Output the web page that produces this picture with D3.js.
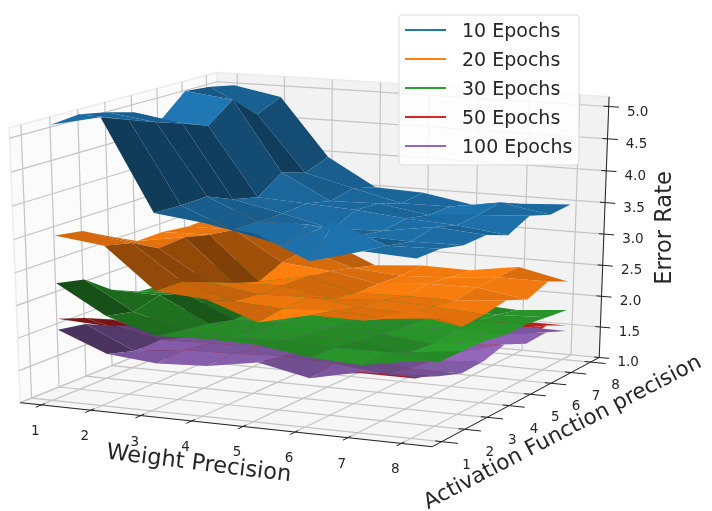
<!DOCTYPE html>
<html>
<head>
<meta charset="utf-8">
<script src="https://cdn.jsdelivr.net/npm/d3@7"></script>
<style>
  html, body { margin: 0; padding: 0; background: #fff; }
  svg { display: block; font-family: "DejaVu Sans", sans-serif; filter: blur(0.35px); }
</style>
</head>
<body>
<div id="chart"></div>
<script>
// rows are weight precision 1..8, columns activation precision 1..8
const epochs10 = [
    [5.18, 5.22, 5.14, 5.03, 4.79, 5.14, 5.10, 5.02],
    [5.34, 5.19, 5.04, 4.91, 4.76, 5.05, 4.71, 4.88],
    [4.00, 3.98, 3.98, 3.81, 3.71, 3.97, 3.84, 3.97],
    [3.91, 3.67, 3.66, 3.65, 3.67, 3.58, 3.65, 3.54],
    [3.81, 3.51, 3.68, 3.48, 3.63, 3.60, 3.47, 3.51],
    [3.48, 3.92, 3.57, 3.51, 3.56, 3.48, 3.48, 3.38],
    [3.69, 3.63, 3.55, 3.63, 3.52, 3.54, 3.60, 3.45],
    [3.65, 3.65, 3.56, 3.57, 3.43, 3.59, 3.47, 3.50]
];
const epochs20 = [
    [3.54, 3.47, 3.25, 3.04, 3.04, 2.99, 3.00, 3.00],
    [3.45, 3.35, 3.13, 3.16, 3.06, 3.00, 2.95, 2.95],
    [2.84, 2.83, 2.67, 2.51, 2.38, 2.54, 2.60, 2.60],
    [2.78, 2.60, 2.55, 2.54, 2.53, 2.47, 2.37, 2.27],
    [2.51, 2.56, 2.58, 2.40, 2.34, 2.33, 2.31, 2.33],
    [2.69, 2.60, 2.50, 2.45, 2.36, 2.40, 2.35, 2.32],
    [2.68, 2.55, 2.47, 2.42, 2.36, 2.41, 2.42, 2.44],
    [2.91, 2.63, 2.34, 2.37, 2.43, 2.29, 2.42, 2.27]
];
const epochs30 = [
    [2.82, 2.73, 2.42, 2.24, 2.19, 2.20, 2.20, 2.15],
    [2.39, 2.30, 2.40, 2.28, 2.20, 2.15, 2.10, 2.10],
    [2.16, 2.09, 2.03, 1.93, 1.95, 2.00, 2.00, 2.00],
    [2.19, 2.05, 2.00, 1.95, 1.95, 1.90, 1.90, 1.85],
    [2.17, 2.08, 2.00, 1.96, 1.92, 1.90, 1.85, 1.85],
    [2.06, 2.04, 1.98, 1.92, 1.88, 1.85, 1.85, 1.78],
    [2.02, 2.05, 1.88, 1.84, 1.90, 1.88, 1.82, 1.74],
    [2.16, 1.97, 1.97, 1.96, 1.89, 1.90, 1.85, 1.81]
];
const epochs50 = [
    [2.28, 2.13, 1.95, 1.80, 1.70, 1.65, 1.65, 1.62],
    [2.24, 1.95, 1.78, 1.68, 1.62, 1.58, 1.58, 1.55],
    [1.82, 1.83, 1.76, 1.68, 1.62, 1.58, 1.56, 1.54],
    [1.84, 1.85, 1.79, 1.72, 1.66, 1.58, 1.56, 1.54],
    [1.96, 1.89, 1.79, 1.72, 1.62, 1.56, 1.54, 1.54],
    [1.82, 1.86, 1.76, 1.70, 1.60, 1.56, 1.54, 1.52],
    [1.90, 1.76, 1.68, 1.62, 1.58, 1.56, 1.56, 1.56],
    [1.90, 1.80, 1.68, 1.70, 1.80, 1.66, 1.72, 1.56]
];
const epochs100 = [
    [2.11, 2.04, 1.85, 1.70, 1.62, 1.60, 1.60, 1.58],
    [1.81, 1.69, 1.70, 1.58, 1.55, 1.52, 1.50, 1.50],
    [1.74, 1.78, 1.72, 1.64, 1.58, 1.52, 1.50, 1.48],
    [1.78, 1.80, 1.74, 1.68, 1.62, 1.52, 1.50, 1.48],
    [1.91, 1.84, 1.74, 1.68, 1.58, 1.50, 1.48, 1.48],
    [1.75, 1.80, 1.70, 1.65, 1.55, 1.50, 1.48, 1.46],
    [1.92, 1.72, 1.63, 1.58, 1.53, 1.50, 1.50, 1.48],
    [1.92, 1.76, 1.63, 1.65, 1.75, 1.59, 1.61, 1.47]
];

const legendLabels = ['10 Epochs', '20 Epochs', '30 Epochs', '50 Epochs', '100 Epochs'];
const seriesColors = ['#1f77b4', '#ff7f0e', '#2ca02c', '#d62728', '#9467bd'];
const seriesValues = [epochs10, epochs20, epochs30, epochs50, epochs100];
const drawOrder = [3, 4, 2, 1, 0];
const gridTicks = [1, 2, 3, 4, 5, 6, 7, 8];
const zTicks = [1, 1.5, 2, 2.5, 3, 3.5, 4, 4.5, 5];
// the mesh sits a little off the x tick marks in the picture
const weightPositions = [1.16, 2.14, 3.13, 4.12, 5.10, 6.09, 7.07, 8.06];
const activationPositions = [1, 2, 3, 4, 5, 6, 7, 8];

const width = 712;
const height = 511;

// camera, same idea as mplot3d
const elev = 16.5 * Math.PI / 180;
const azim = -65 * Math.PI / 180;
const dist = 8;

const right = [-Math.sin(azim), Math.cos(azim), 0];
const toEye = [Math.cos(elev) * Math.cos(azim), Math.cos(elev) * Math.sin(azim), Math.sin(elev)];
const up = [-Math.sin(elev) * Math.cos(azim), -Math.sin(elev) * Math.sin(azim), Math.cos(elev)];
const dot = (a, b) => a[0] * b[0] + a[1] * b[1] + a[2] * b[2];

const xLim = [0.57, 8.57];
const yLim = [0.6, 8.45];
const zLim = [1, 5.15];

const xWorld = d3.scaleLinear().domain(xLim).range([-0.5, 0.5]);
const yWorld = d3.scaleLinear().domain(yLim).range([-0.5, 0.5]);
const zWorld = d3.scaleLinear().domain(zLim).range([-0.5, 0.5]);
const xScreen = d3.scaleLinear().domain([-1, 1]).range([318 - 443, 318 + 443]);
const yScreen = d3.scaleLinear().domain([-1, 1]).range([248 + 279, 248 - 279]);

function project(x, y, z) {
    const p = [xWorld(x), yWorld(y), zWorld(z)];
    const s = dist / (dist - dot(p, toEye));
    return [xScreen(dot(p, right) * s), yScreen(dot(p, up) * s)];
}

function depth(x, y, z) {
    return dot([xWorld(x), yWorld(y), zWorld(z)], toEye);
}

const svg = d3.select('#chart').append('svg')
    .attr('width', width)
    .attr('height', height);

const line3d = d3.line();

function drawPane(points, fill) {
    svg.append('path')
        .attr('d', line3d(points.map(d => project(...d))) + 'Z')
        .attr('fill', fill)
        .attr('stroke', '#ececec')
        .attr('stroke-width', 1.5);
}

const [x0, x1] = xLim;
const [y0, y1] = yLim;
const [z0, z1] = zLim;

drawPane([[x0, y0, z0], [x0, y1, z0], [x0, y1, z1], [x0, y0, z1]], '#fbfbfb');
drawPane([[x0, y1, z0], [x1, y1, z0], [x1, y1, z1], [x0, y1, z1]], '#f2f2f2');
drawPane([[x0, y0, z0], [x1, y0, z0], [x1, y1, z0], [x0, y1, z0]], '#f6f6f6');

function drawGrid(points) {
    svg.append('path')
        .attr('d', line3d(points.map(d => project(...d))))
        .attr('fill', 'none')
        .attr('stroke', '#c4c4c4')
        .attr('stroke-width', 1.2);
}

gridTicks.forEach(t => {
    drawGrid([[t, y0, z0], [t, y1, z0], [t, y1, z1]]);
    drawGrid([[x1, t, z0], [x0, t, z0], [x0, t, z1]]);
});
zTicks.forEach(t => {
    drawGrid([[x0, y0, t], [x0, y1, t], [x1, y1, t]]);
});

// axis lines on the front and right
function drawAxis(a, b) {
    svg.append('path')
        .attr('d', line3d([project(...a), project(...b)]))
        .attr('stroke', '#222')
        .attr('stroke-width', 1);
}
drawAxis([x0, y0, z0], [x1, y0, z0]);
drawAxis([x1, y0, z0], [x1, y1, z0]);
drawAxis([x1, y1, z0], [x1, y1, z1]);

function tickMark(a, b) {
    svg.append('path')
        .attr('d', line3d([project(...a), project(...b)]))
        .attr('stroke', '#222')
        .attr('stroke-width', 1);
}

function tickLabel(pos, dx, dy, text) {
    svg.append('text')
        .attr('x', pos[0] + dx)
        .attr('y', pos[1] + dy)
        .attr('text-anchor', 'middle')
        .attr('dominant-baseline', 'central')
        .attr('font-size', 13.5)
        .attr('fill', '#262626')
        .text(text);
}

gridTicks.forEach(t => {
    tickMark([t, y0 + 0.12, z0], [t, y0 - 0.2, z0]);
    tickLabel(project(t, y0, z0), -6, 25, t);
    tickMark([x1 - 0.12, t, z0], [x1 + 0.3, t, z0]);
    tickLabel(project(x1, t, z0), 25, 22, t);
});
zTicks.forEach(t => {
    tickMark([x1 - 0.1, y1, t], [x1 + 0.2, y1, t]);
    tickLabel(project(x1, y1, t), 29, 4, t.toFixed(1));
});

// shade is scaled per surface, darkest face gets half the base colour
function surfaceFaces(values, color) {
    const base = d3.rgb(color);
    const faces = [];
    for (let i = 0; i < 7; i++) {
        for (let j = 0; j < 7; j++) {
            const corners = [
                [weightPositions[i], activationPositions[j], values[i][j]],
                [weightPositions[i + 1], activationPositions[j], values[i + 1][j]],
                [weightPositions[i + 1], activationPositions[j + 1], values[i + 1][j + 1]],
                [weightPositions[i], activationPositions[j + 1], values[i][j + 1]]
            ];
            // normal from the two diagonals of the quad
            const u = corners[2].map((c, k) => c - corners[0][k]);
            const v = corners[3].map((c, k) => c - corners[1][k]);
            const n = [
                u[1] * v[2] - u[2] * v[1],
                u[2] * v[0] - u[0] * v[2],
                u[0] * v[1] - u[1] * v[0]
            ];
            const shade = dot(n, [-1, -1, 0.5]) / Math.sqrt(dot(n, n));
            faces.push({
                corners,
                shade,
                depth: d3.mean(corners, c => depth(...c))
            });
        }
    }
    const shadeScale = d3.scaleLinear()
        .domain(d3.extent(faces, d => d.shade))
        .range([0.5, 1]);
    faces.forEach(d => {
        const k = shadeScale(d.shade);
        d.fill = d3.rgb(base.r * k, base.g * k, base.b * k).formatHex();
    });
    return faces.sort((a, b) => a.depth - b.depth);
}

drawOrder.forEach(idx => {
    svg.append('g')
        .selectAll('path')
        .data(surfaceFaces(seriesValues[idx], seriesColors[idx]))
        .enter()
        .append('path')
        .attr('d', d => line3d(d.corners.map(c => project(...c))) + 'Z')
        .attr('fill', d => d.fill);
});

// axis titles
function axisTitle(x, y, angle, size, text) {
    svg.append('text')
        .attr('transform', `translate(${x},${y}) rotate(${angle})`)
        .attr('text-anchor', 'middle')
        .attr('dominant-baseline', 'central')
        .attr('font-size', size)
        .attr('fill', '#262626')
        .text(text);
}
axisTitle(199, 462, 7, 22.5, 'Weight Precision');
axisTitle(562, 431, -27.5, 21.5, 'Activation Function precision');
axisTitle(663, 228, -90, 22.5, 'Error Rate');

// legend
const legend = svg.append('g');
legend.append('rect')
    .attr('x', 399)
    .attr('y', 15)
    .attr('width', 180)
    .attr('height', 150)
    .attr('rx', 3)
    .attr('fill', 'rgba(255,255,255,0.85)')
    .attr('stroke', '#dcdcdc');

const legendY = d3.scalePoint().domain(legendLabels).range([30, 146]);
legendLabels.forEach((label, i) => {
    legend.append('line')
        .attr('x1', 405)
        .attr('x2', 446)
        .attr('y1', legendY(label))
        .attr('y2', legendY(label))
        .attr('stroke', seriesColors[i])
        .attr('stroke-width', 2);
    legend.append('text')
        .attr('x', 462)
        .attr('y', legendY(label))
        .attr('dominant-baseline', 'central')
        .attr('font-size', 19)
        .attr('fill', '#262626')
        .text(label);
});
</script>
</body>
</html>
